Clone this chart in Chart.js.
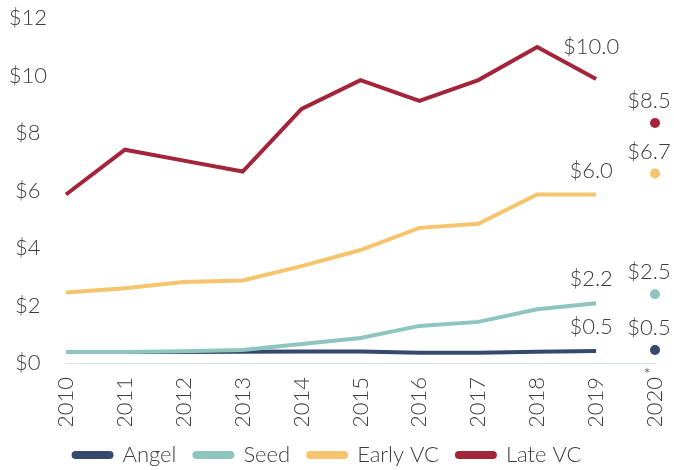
<!DOCTYPE html>
<html>
<head>
<meta charset="utf-8">
<script src="https://cdn.jsdelivr.net/npm/chart.js@4"></script>
<style>
  html, body { margin: 0; padding: 0; background: #fff; }
  #wrap { width: 674px; height: 470px; }
</style>
</head>
<body>
<div id="wrap"><canvas id="fundChart"></canvas></div>
<script>
const years = ['2010', '2011', '2012', '2013', '2014', '2015', '2016', '2017', '2018', '2019', '2020*'];
const seriesNames = ['Angel', 'Seed', 'Early VC', 'Late VC'];
const angel = [0.38, 0.38, 0.38, 0.39, 0.40, 0.40, 0.36, 0.36, 0.39, 0.42];
const seed = [0.38, 0.38, 0.41, 0.45, 0.66, 0.87, 1.29, 1.43, 1.87, 2.08];
const earlyVC = [2.45, 2.60, 2.82, 2.87, 3.37, 3.93, 4.70, 4.84, 5.86, 5.86];
const lateVC = [5.86, 7.42, 7.04, 6.66, 8.84, 9.84, 9.12, 9.84, 10.99, 9.88];
const estimate2020 = [0.45, 2.39, 6.59, 8.35];
const labels2019 = ['$0.5', '$2.2', '$6.0', '$10.0'];
const labels2020 = ['$0.5', '$2.5', '$6.7', '$8.5'];
const yTicks = [0, 2, 4, 6, 8, 10, 12];

const colors = ['#34496d', '#8ec5bf', '#f5c46c', '#a3253a'];
const textColor = '#3d3d3d';
const fontFamily = '"Lato Light", Lato, "Open Sans", sans-serif';

const lineSeries = [angel, seed, earlyVC, lateVC];
const datasets = [];

lineSeries.forEach((vals, i) => {
    datasets.push({
        label: seriesNames[i],
        data: vals.concat([null]),
        borderColor: colors[i],
        backgroundColor: colors[i],
        borderWidth: 4,
        pointRadius: 0,
        tension: 0,
        order: 4 - i
    });
});

// 2020* estimates are only shown as dots
lineSeries.forEach((vals, i) => {
    const pts = years.map(() => null);
    pts[years.length - 1] = estimate2020[i];
    datasets.push({
        label: '2020 ' + seriesNames[i],
        data: pts,
        showLine: false,
        borderColor: colors[i],
        backgroundColor: colors[i],
        pointRadius: 5,
        pointBorderWidth: 0
    });
});

// value labels above the 2019 and 2020* points, plus the superscript asterisk
const valueLabels = {
    id: 'valueLabels',
    afterDatasetsDraw(chart) {
        const ctx = chart.ctx;
        ctx.save();
        ctx.font = '300 22px ' + fontFamily;
        ctx.fillStyle = textColor;
        ctx.textAlign = 'center';
        ctx.textBaseline = 'middle';
        for (let i = 0; i < 4; i++) {
            const p19 = chart.getDatasetMeta(i).data[9];
            const lift = i === 3 ? 32 : 24;
            ctx.fillText(labels2019[i], p19.x - 5, p19.y - lift);
            const p20 = chart.getDatasetMeta(i + 4).data[10];
            ctx.fillText(labels2020[i], p20.x - 6, p20.y - 22);
        }
        const xs = chart.scales.x;
        const last = years.length - 1;
        if (years[last].endsWith('*')) {
            ctx.font = '300 18px ' + fontFamily;
            ctx.fillText('*', xs.getPixelForValue(last) - 8, xs.top + 12);
        }
        ctx.restore();
    }
};

const tickFont = { family: fontFamily, size: 22, weight: '300' };

new Chart(document.getElementById('fundChart'), {
    type: 'line',
    data: { labels: years, datasets: datasets },
    options: {
        responsive: true,
        maintainAspectRatio: false,
        animation: false,
        layout: { padding: { top: 18, right: 19, left: 0, bottom: -6 } },
        plugins: {
            legend: {
                position: 'bottom',
                labels: {
                    filter: item => seriesNames.includes(item.text),
                    sort: (a, b) => a.datasetIndex - b.datasetIndex,
                    boxWidth: 38,
                    boxHeight: 4,
                    useBorderRadius: true,
                    borderRadius: 2,
                    color: textColor,
                    font: tickFont,
                    padding: 18
                }
            },
            tooltip: { enabled: false }
        },
        scales: {
            x: {
                offset: false,
                afterFit: axis => {
                    axis.height = 63;
                    axis.paddingLeft = 0;
                    axis.paddingRight = 0;
                },
                grid: { display: false, drawTicks: false },
                border: { display: true, color: '#d6ddec', width: 1 },
                ticks: {
                    color: textColor,
                    font: tickFont,
                    minRotation: 90,
                    maxRotation: 90,
                    padding: 14,
                    autoSkip: false,
                    callback: function (v) { return this.getLabelForValue(v).replace('*', ''); }
                }
            },
            y: {
                min: 0,
                max: 12,
                afterBuildTicks: axis => { axis.ticks = yTicks.map(v => ({ value: v })); },
                afterFit: axis => {
                    axis.width = 66;
                    axis.paddingTop = 0;
                    axis.paddingBottom = 0;
                },
                grid: { display: false, drawTicks: false },
                border: { display: false },
                ticks: {
                    color: textColor,
                    font: tickFont,
                    crossAlign: 'center',
                    padding: 19,
                    callback: v => '$' + v
                }
            }
        }
    },
    plugins: [valueLabels]
});
</script>
</body>
</html>
